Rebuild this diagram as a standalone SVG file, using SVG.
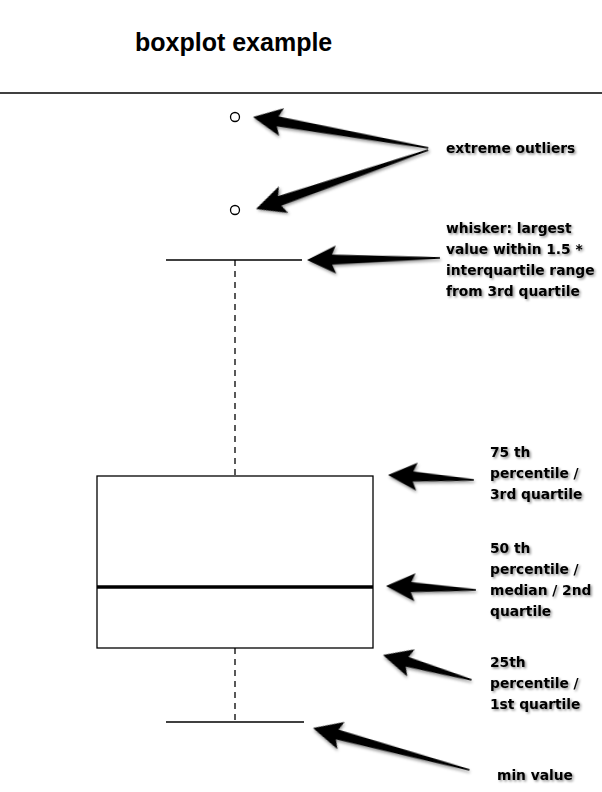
<svg xmlns="http://www.w3.org/2000/svg" width="602" height="792" viewBox="0 0 602 792">
<defs>
<filter id="sh" x="-10%" y="-30%" width="130%" height="170%"><feDropShadow dx="1.5" dy="1.5" stdDeviation="1" flood-color="#000" flood-opacity="0.45"/></filter>
<filter id="ash" x="-10%" y="-50%" width="130%" height="200%"><feDropShadow dx="1" dy="2" stdDeviation="1.5" flood-color="#000" flood-opacity="0.4"/></filter>
</defs>
<style>
.t{font-family:"DejaVu Sans",Verdana,sans-serif;font-weight:bold;font-size:13.8px;fill:#000;filter:url(#sh)}
.l{stroke:#000;stroke-width:1.3;fill:none}
.d{stroke:#000;stroke-width:1.3;stroke-dasharray:6,5;fill:none}
.a{fill:#000;filter:url(#ash)}
</style>
<rect width="602" height="792" fill="#fff"/>
<text x="135" y="51" font-family="Liberation Sans,Arial,sans-serif" font-weight="bold" font-size="25">boxplot example</text>
<line x1="0" y1="93" x2="602" y2="93" class="l"/>
<g id="plot">
<circle cx="235" cy="117" r="4.5" class="l"/>
<circle cx="235" cy="210" r="4.5" class="l"/>
<line x1="166" y1="260" x2="302" y2="260" class="l"/>
<line x1="235" y1="260" x2="235" y2="476" class="d"/>
<rect x="97" y="476" width="276" height="172" class="l"/>
<line x1="97" y1="587" x2="373" y2="587" stroke="#000" stroke-width="3.5"/>
<line x1="235" y1="648" x2="235" y2="722" class="d"/>
<line x1="166" y1="722" x2="304" y2="722" class="l"/>
</g>
<g id="connectors">
<polygon class="a" transform="translate(253,117) rotate(10)" points="0,0 29,-14 25,-5 178,-0.8 178,0.8 25,5 29,14"/>
<polygon class="a" transform="translate(256,209) rotate(-18.9)" points="0,0 29,-14 25,-5 182,-0.8 182,0.8 25,5 29,14"/>
<polygon class="a" transform="translate(307,260) rotate(-0.9)" points="0,0 29,-14 25,-5 133,-0.8 133,0.8 25,5 29,14"/>
<polygon class="a" transform="translate(388,475) rotate(3.3)" points="0,0 29,-14 25,-5 86,-0.8 86,0.8 25,5 29,14"/>
<polygon class="a" transform="translate(386,586) rotate(2.5)" points="0,0 29,-14 25,-5 90,-0.8 90,0.8 25,5 29,14"/>
<polygon class="a" transform="translate(383,655) rotate(15.7)" points="0,0 29,-14 25,-5 92,-0.8 92,0.8 25,5 29,14"/>
<polygon class="a" transform="translate(313,728) rotate(15)" points="0,0 29,-14 25,-5 162,-0.8 162,0.8 25,5 29,14"/>
</g>
<g id="labels">
<text class="t" x="446" y="153">extreme outliers</text>
<text class="t" x="446" y="233">whisker: largest</text>
<text class="t" x="446" y="254">value within 1.5 *</text>
<text class="t" x="446" y="275">interquartile range</text>
<text class="t" x="446" y="296">from 3rd quartile</text>
<text class="t" x="490" y="457">75 th</text>
<text class="t" x="490" y="478">percentile /</text>
<text class="t" x="490" y="499">3rd quartile</text>
<text class="t" x="490" y="553">50 th</text>
<text class="t" x="490" y="574">percentile /</text>
<text class="t" x="490" y="595">median / 2nd</text>
<text class="t" x="490" y="616">quartile</text>
<text class="t" x="490" y="667">25th</text>
<text class="t" x="490" y="688">percentile /</text>
<text class="t" x="490" y="709">1st quartile</text>
<text class="t" x="497" y="780">min value</text>
</g>
</svg>
